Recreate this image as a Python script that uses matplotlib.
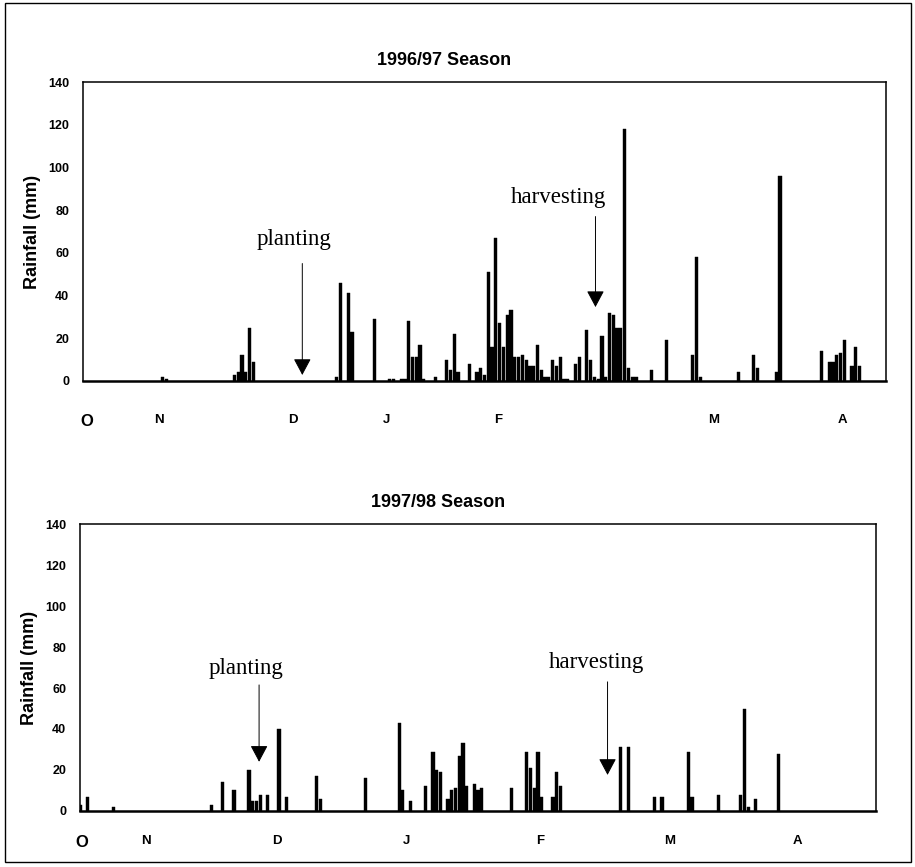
import matplotlib
matplotlib.use('Agg')
import matplotlib.pyplot as plt
from matplotlib.patches import Rectangle


# day of season (0 = 1 Oct) and daily rainfall in mm
days_9697 = [21, 22, 40, 41, 42, 43, 44, 45, 67, 68, 70, 71, 77, 81, 82, 84, 85,
             86, 87, 88, 89, 90, 93, 96, 97, 98, 99, 102, 104, 105, 106, 107, 108,
             109, 110, 111, 112, 113, 114, 115, 116, 117, 118, 119, 120, 121, 122,
             123, 124, 125, 126, 127, 128, 130, 131, 133, 134, 135, 136, 137, 138,
             139, 140, 141, 142, 143, 144, 145, 146, 150, 154, 161, 162, 163, 173,
             177, 178, 183, 184, 195, 197, 198, 199, 200, 201, 203, 204, 205]
rain_9697 = [2, 1, 3, 4, 12, 4, 25, 9, 2, 46, 41, 23, 29, 1, 1, 1, 1,
             28, 11, 11, 17, 1, 2, 10, 5, 22, 4, 8, 4, 6, 3, 51, 16,
             67, 27, 16, 31, 33, 11, 11, 12, 10, 7, 7, 17, 5, 2,
             2, 10, 7, 11, 1, 1, 8, 11, 24, 10, 2, 1, 21, 2,
             32, 31, 25, 25, 118, 6, 2, 2, 5, 19, 12, 58, 2, 4,
             12, 6, 4, 96, 14, 9, 9, 12, 13, 19, 7, 16, 7]

days_9798 = [0, 2, 9, 35, 38, 41, 45, 46, 47, 48, 50, 53, 55, 63, 64, 76, 85, 86,
             88, 92, 94, 95, 96, 98, 99, 100, 101, 102, 103, 105, 106, 107, 115,
             119, 120, 121, 122, 123, 126, 127, 128, 144, 146, 153, 155, 162, 163,
             170, 176, 177, 178, 180, 186]
rain_9798 = [3, 7, 2, 3, 14, 10, 20, 5, 5, 8, 8, 40, 7, 17, 6, 16, 43, 10,
             5, 12, 29, 20, 19, 6, 10, 11, 27, 33, 12, 13, 10, 11, 11,
             29, 21, 11, 29, 7, 7, 19, 12, 31, 31, 7, 7, 29, 7,
             8, 8, 50, 2, 6, 28]

month_labels = ['O', 'N', 'D', 'J', 'F', 'M', 'A']
month_pos_9697 = [1, 20, 55.5, 80, 109.5, 166.5, 200.5]
month_pos_9798 = [0.5, 17.5, 52.5, 87, 122.5, 157, 191]

SANS = 'Liberation Sans'
SERIF = 'Liberation Serif'


def draw_season(ax, days, rain, month_pos, title, pad, events):
    ax.bar(days, rain, width=0.85, color='black', edgecolor='black', linewidth=0.3)
    ax.set_xlim(0, 212)
    ax.set_ylim(0, 140)
    ax.set_yticks(range(0, 141, 20))
    ax.set_xticks(month_pos)
    ax.set_xticklabels(month_labels)
    for lab in ax.get_xticklabels():
        lab.set_fontfamily(SANS)
        lab.set_fontweight('bold')
        lab.set_fontsize(9.5)
    ax.get_xticklabels()[0].set_fontsize(12)
    for lab in ax.get_yticklabels():
        lab.set_fontfamily(SANS)
        lab.set_fontweight('bold')
        lab.set_fontsize(9)
    ax.tick_params(axis='x', length=0, pad=pad)
    ax.tick_params(axis='y', length=0, pad=10)
    for s in ax.spines.values():
        s.set_linewidth(1.1)
    ax.spines['bottom'].set_linewidth(1.8)
    ax.set_ylabel('Rainfall (mm)', fontfamily=SANS, fontweight='bold', fontsize=13, labelpad=5)
    ax.set_title(title, fontfamily=SANS, fontweight='bold', fontsize=13, pad=12, x=0.45)

    for label, tx, ty, ax_x, y_top, y_tip in events:
        ax.text(tx, ty, label, fontfamily=SERIF, fontsize=16.5, ha='center', va='center')
        ax.annotate('', xy=(ax_x, y_tip), xytext=(ax_x, y_top),
                    arrowprops=dict(arrowstyle='-|>,head_length=0.6,head_width=0.32',
                                    color='black', lw=0.7, mutation_scale=17,
                                    shrinkA=0, shrinkB=0))


def main():
    fig = plt.figure(figsize=(9.15, 8.67), dpi=100)
    ax1 = fig.add_axes([0.0907, 0.5606, 0.8776, 0.3448])
    ax2 = fig.add_axes([0.0874, 0.0646, 0.8700, 0.3310])

    draw_season(ax1, days_9697, rain_9697, month_pos_9697, '1996/97 Season', 24,
                [('planting', 55.6, 66.3, 57.9, 55, 2.8),
                 ('harvesting', 125.4, 85.7, 135.3, 77, 34.6)])
    draw_season(ax2, days_9798, rain_9798, month_pos_9798, '1997/98 Season', 17,
                [('planting', 44.1, 69.3, 47.7, 61.5, 24),
                 ('harvesting', 137.5, 72.3, 140.5, 63, 17.6)])

    fig.patches.append(Rectangle((0.006, 0.006), 0.99, 0.99, transform=fig.transFigure,
                                 fill=False, edgecolor='black', linewidth=1))
    fig.savefig('out.png', dpi=100)


if __name__ == "__main__":
    main()
